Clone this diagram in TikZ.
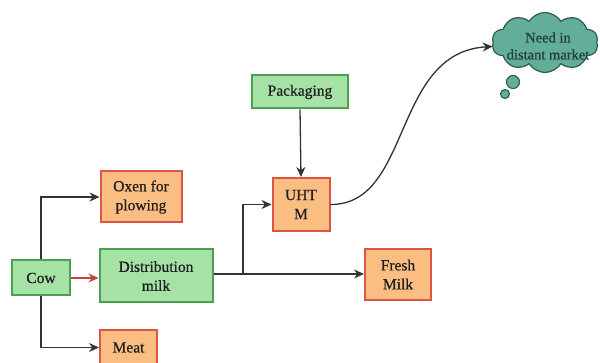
\documentclass[tikz,border=0pt]{standalone}
\usepackage{fontspec}
\setmainfont{Liberation Serif}[FakeBold=0.6]
\usetikzlibrary{shapes.symbols,arrows.meta}
\definecolor{gfill}{HTML}{A6E2A6}
\definecolor{gdraw}{HTML}{4E9E52}
\definecolor{ofill}{HTML}{FBBE82}
\definecolor{odraw}{HTML}{DE5448}
\definecolor{cfill}{HTML}{62AE9A}
\definecolor{cdraw}{HTML}{2F5A50}
\definecolor{ln}{HTML}{333333}
\definecolor{txt}{HTML}{1E1E1E}
\tikzset{
  box/.style={draw, line width=2pt, rectangle, align=center, inner sep=0pt,
    text=txt, font=\fontsize{15.5}{19}\selectfont},
  gbox/.style={box, fill=gfill, draw=gdraw},
  obox/.style={box, fill=ofill, draw=odraw},
  bubble/.style={circle, draw=cdraw, line width=1.1pt, fill=cfill, inner sep=0pt},
  conn/.style={draw=ln, line width=1.3pt, -{Stealth[length=10pt,width=9pt]}},
  rconn/.style={draw=odraw!85!black, line width=1.3pt, -{Stealth[length=10pt,width=9pt]}}
}
\begin{document}
\begin{tikzpicture}[x=1pt,y=-1pt]
\useasboundingbox (0,0) rectangle (600,363);
\fill[white] (0,0) rectangle (600,363);
\node[gbox, minimum width=58pt, minimum height=35pt] (cow) at (41,278) {Cow};
\node[obox, minimum width=81pt, minimum height=51pt] (oxen) at (141,197) {Oxen for\\plowing};
\node[gbox, minimum width=113pt, minimum height=53pt] (dist) at (156,276) {Distribution\\milk};
\node[obox, minimum width=57pt, minimum height=35pt] (meat) at (128.5,347.5) {Meat};
\node[gbox, minimum width=96pt, minimum height=33pt] (pack) at (300,92) {Packaging};
\node[obox, minimum width=57pt, minimum height=53pt] (uht) at (301,204.5) {UHT\\M};
\node[obox, minimum width=66pt, minimum height=51pt] (fresh) at (398,274.5) {Fresh\\Milk};
\node[cloud, cloud puffs=10, cloud puff arc=115, draw=cdraw, line width=1.2pt,
  fill=cfill, minimum width=106pt, minimum height=60pt, inner sep=0pt] (need) at (545,42.5) {};
\node[align=center, inner sep=0pt, text=cdraw!70!black,
  font=\fontsize{14.5}{18}\selectfont] (needtxt) at (548,46) {Need in\\[-1pt]distant market};
\node[bubble, minimum size=13pt] (b1) at (513,82) {};
\node[bubble, minimum size=9pt] (b2) at (505,94) {};
\coordinate (j) at (243,274);
\draw[conn] (cow.north) |- (oxen.west);
\draw[conn] (cow.south) |- (meat.west);
\draw[rconn] (cow.east) -- (dist.west |- cow.east);
\draw[conn] (dist.east |- j) -- (j) |- (uht.west);
\draw[conn] (j) -- (fresh.west |- j);
\draw[conn] (pack.south) -- (uht.north);
\draw[conn] (uht.east) .. controls (412,205) and (392,52) .. ([yshift=-4pt]need.west);
\end{tikzpicture}
\end{document}
